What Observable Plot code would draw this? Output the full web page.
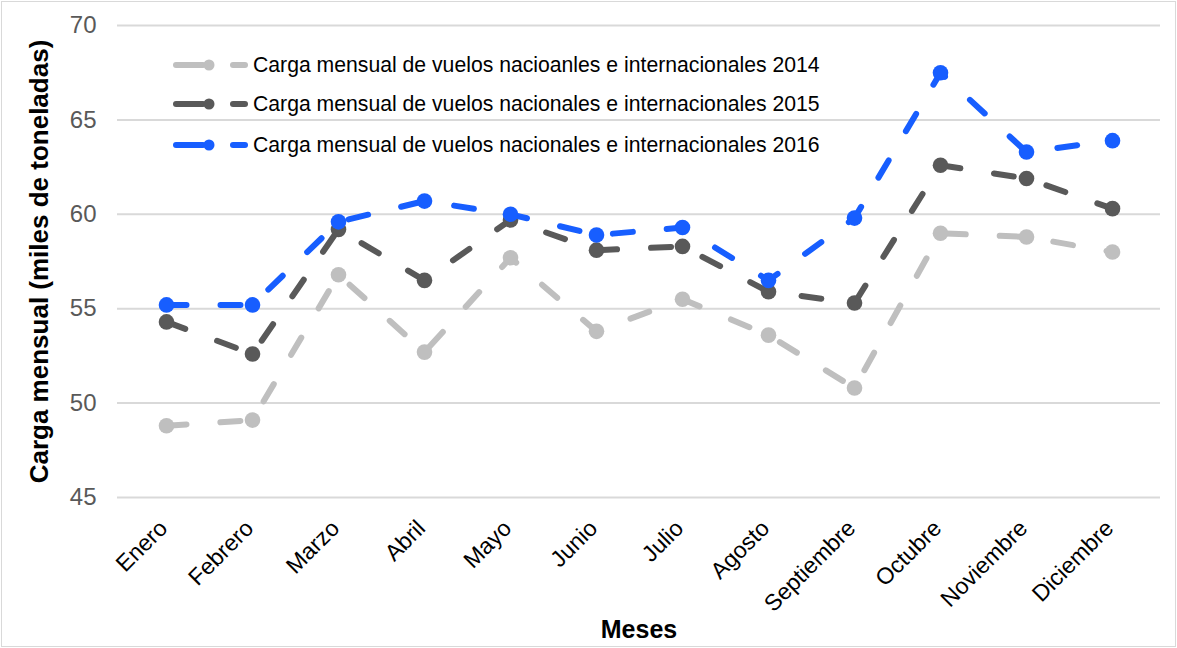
<!DOCTYPE html>
<html>
<head>
<meta charset="utf-8">
<script src="https://cdn.jsdelivr.net/npm/d3@7"></script>
<script src="https://cdn.jsdelivr.net/npm/@observablehq/plot@0.6"></script>
<style>
  html, body { margin: 0; padding: 0; background: #fff; }
  #wrap { position: relative; width: 1177px; height: 648px; font-family: "Liberation Sans", Arial, sans-serif; }
  #frame { position: absolute; left: 1px; top: 1px; width: 1173px; height: 644px; border: 1px solid #d9d9d9; pointer-events: none; }
  #legend { position: absolute; left: 170px; top: 0; }
  .item { position: absolute; left: 0; height: 30px; display: flex; align-items: center; white-space: nowrap; font-size: 21.2px; color: #000; }
  .item svg { margin-right: 3px; }
</style>
</head>
<body>
<div id="wrap"><div id="chart"></div><div id="legend"></div><div id="frame"></div></div>
<script>
const months = ["Enero","Febrero","Marzo","Abril","Mayo","Junio","Julio","Agosto","Septiembre","Octubre","Noviembre","Diciembre"];
const carga2014 = [48.8, 49.1, 56.8, 52.7, 57.7, 53.8, 55.5, 53.6, 50.8, 59.0, 58.8, 58.0];
const carga2015 = [54.3, 52.6, 59.2, 56.5, 59.7, 58.1, 58.3, 55.9, 55.3, 62.6, 61.9, 60.3];
const carga2016 = [55.2, 55.2, 59.6, 60.7, 60.0, 58.9, 59.3, 56.5, 59.8, 67.5, 63.3, 63.9];
const seriesNames = [
  "Carga mensual de vuelos nacioanles e internacionales 2014",
  "Carga mensual de vuelos nacionales e internacionales 2015",
  "Carga mensual de vuelos nacionales e internacionales 2016"
];
const seriesColors = ["#BFBFBF", "#595959", "#175EFF"];
const yTicks = [45, 50, 55, 60, 65, 70];
const yTitle = "Carga mensual (miles de toneladas)";
const xTitle = "Meses";

const seriesValues = [carga2014, carga2015, carga2016];
const rows = seriesNames.flatMap((s, i) => months.map((m, j) => ({series: s, month: m, value: seriesValues[i][j]})));

const seriesMarks = seriesNames.flatMap(s => [
  Plot.line(rows.filter(d => d.series === s), {x: "month", y: "value", stroke: "series", strokeWidth: 6, strokeDasharray: "20,34", strokeLinecap: "round", strokeLinejoin: "round"}),
  Plot.dot(rows.filter(d => d.series === s), {x: "month", y: "value", fill: "series", r: 7.8})
]);

const chart = Plot.plot({
  width: 1177,
  height: 648,
  marginLeft: 117,
  marginRight: 17,
  marginTop: 25,
  marginBottom: 151,
  style: {fontFamily: "'Liberation Sans', Arial, sans-serif", background: "transparent", overflow: "visible"},
  x: {type: "point", domain: months, padding: 0.5, axis: null},
  y: {domain: [45, 70], axis: null},
  color: {domain: seriesNames, range: seriesColors},
  marks: [
    Plot.ruleY(yTicks, {stroke: "#d9d9d9", strokeWidth: 2}),
    Plot.axisY({ticks: yTicks, tickSize: 0, tickPadding: 21, fontSize: 24, fill: "#595959", label: null}),
    Plot.text(months, {x: d => d, frameAnchor: "bottom", rotate: -45, textAnchor: "end", lineAnchor: "middle", dx: -3, dy: 27, fontSize: 23, fill: "#000"}),
    Plot.text([yTitle], {frameAnchor: "left", rotate: -90, textAnchor: "middle", lineAnchor: "top", dx: -88, fontSize: 26, fontWeight: "bold", fill: "#000"}),
    Plot.text([xTitle], {frameAnchor: "bottom", textAnchor: "middle", lineAnchor: "bottom", dy: 140, fontSize: 25, fontWeight: "bold", fill: "#000"}),
    ...seriesMarks
  ]
});
document.getElementById("chart").appendChild(chart);

// legend
const legendRowsY = [65, 104, 145];
const legend = document.getElementById("legend");
seriesNames.forEach((s, i) => {
  const div = document.createElement("div");
  div.className = "item";
  div.style.top = (legendRowsY[i] - 15) + "px";
  const c = seriesColors[i];
  div.innerHTML = `<svg width="80" height="20"><line x1="6" y1="10" x2="33" y2="10" stroke="${c}" stroke-width="6" stroke-linecap="round"/><circle cx="39" cy="10" r="5.5" fill="${c}"/><line x1="63" y1="10" x2="75" y2="10" stroke="${c}" stroke-width="6" stroke-linecap="round"/></svg><span>${s}</span>`;
  legend.appendChild(div);
});
</script>
</body>
</html>
